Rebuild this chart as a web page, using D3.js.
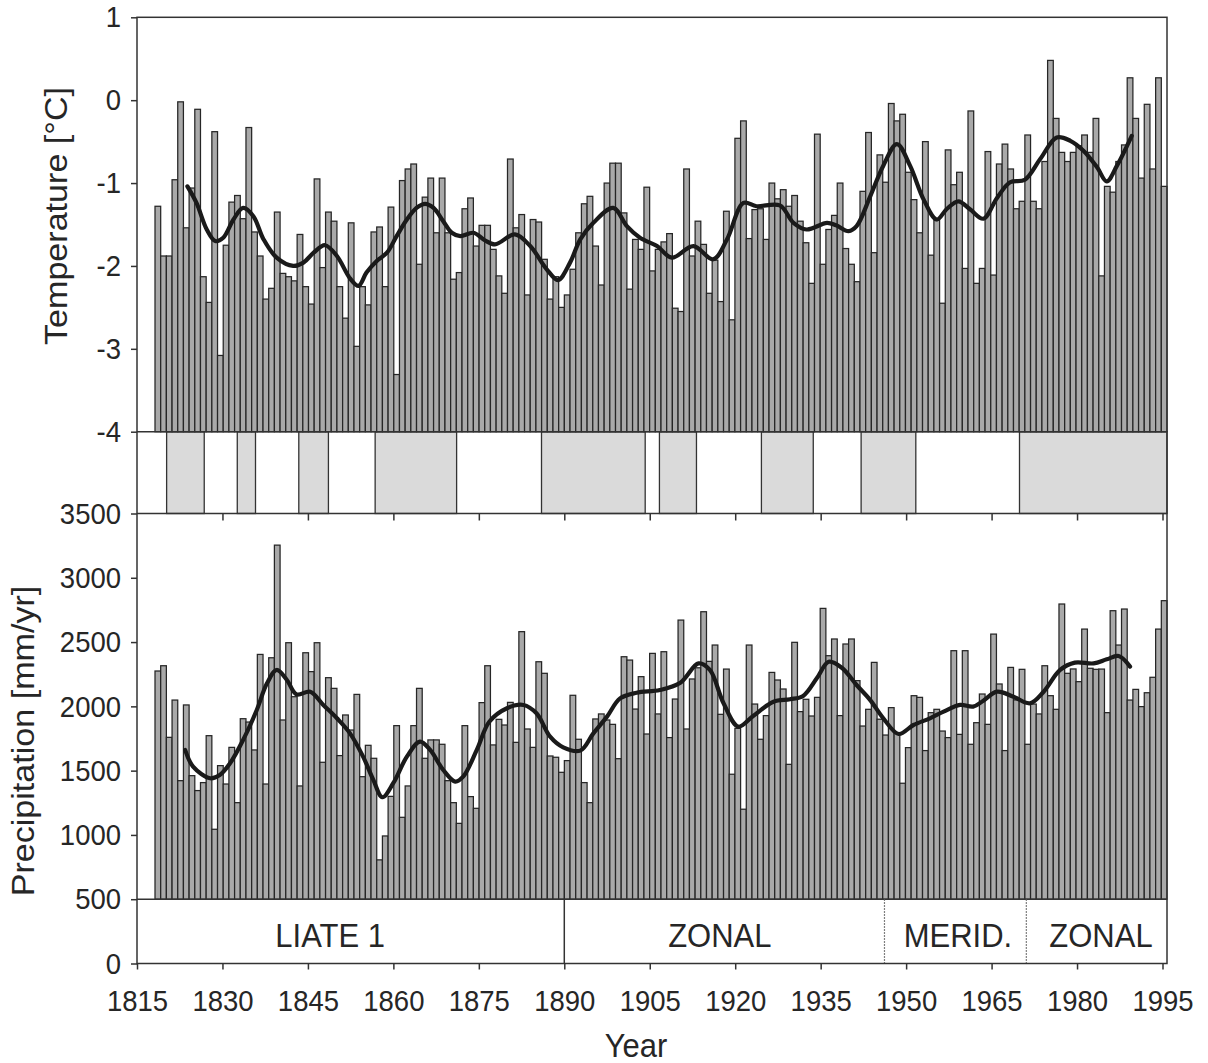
<!DOCTYPE html>
<html><head><meta charset="utf-8">
<script src="https://cdn.jsdelivr.net/npm/d3@7"></script>
<style>
body{margin:0;background:#fff}
text{font-family:"Liberation Sans",Arial,Helvetica,sans-serif;fill:#262626}
</style>
</head><body>
<svg id="chart" width="1208" height="1063"></svg>
<script>
// ---------------- data ----------------
const years = d3.range(1818, 1996);

const temperature = [
-1.28,-1.88,-1.88,-0.96,-0.02,-1.54,-1.06,-0.11,-2.13,-2.44,
-0.38,-3.08,-1.75,-1.23,-1.15,-1.43,-0.33,-1.59,-1.88,-2.40,
-2.27,-1.35,-2.09,-2.13,-2.18,-1.62,-2.25,-2.46,-0.95,-2.02,
-1.35,-1.46,-2.25,-2.63,-1.48,-2.97,-2.25,-2.47,-1.59,-1.53,
-2.25,-1.29,-3.31,-0.97,-0.83,-0.77,-1.98,-1.17,-0.94,-1.60,
-0.94,-1.60,-2.16,-2.08,-1.31,-1.18,-1.76,-1.51,-1.51,-1.80,
-2.12,-2.33,-0.71,-1.54,-1.38,-2.35,-1.44,-1.47,-1.92,-2.40,
-2.13,-2.50,-2.35,-2.04,-1.60,-1.25,-1.16,-1.76,-2.23,-1.00,
-0.76,-0.76,-1.36,-2.28,-1.68,-1.80,-1.05,-2.06,-1.80,-1.71,
-1.61,-2.51,-2.55,-0.83,-1.88,-1.46,-1.74,-2.33,-1.93,-2.43,
-1.34,-2.65,-0.46,-0.25,-1.67,-1.32,-1.31,-1.68,-1.00,-1.19,
-1.08,-1.28,-1.15,-1.46,-1.72,-2.21,-0.41,-1.98,-1.56,-1.39,
-1.00,-1.79,-1.98,-2.19,-1.10,-0.39,-1.84,-0.66,-0.99,-0.04,
-0.25,-0.17,-0.87,-1.20,-1.60,-0.50,-1.87,-1.45,-2.45,-0.60,
-1.02,-0.87,-2.03,-0.13,-2.21,-2.03,-0.62,-2.11,-0.77,-0.53,
-0.83,-1.31,-1.22,-0.42,-1.22,-1.31,-0.74,0.48,-0.22,-0.63,
-0.74,-0.63,-0.55,-0.42,-0.63,-0.22,-2.12,-1.04,-1.11,-0.74,
-0.54,0.27,-0.22,-0.94,-0.05,-0.83,0.27,-1.04
];

const precipitation = [
2275,2316,1759,2049,1422,2011,1461,1345,1407,1772,
1044,1539,1396,1681,1251,1904,1878,1661,2404,1396,
2378,3254,1894,2495,2075,1381,2417,2270,2495,1565,
2223,2140,1617,1933,1816,2093,1453,1697,1596,806,
992,1300,1850,1137,1381,1850,2140,1596,1739,1739,
1705,1422,1251,1090,1850,1298,1207,2029,2316,1700,
1899,1855,2031,1720,2581,1824,1681,2347,2257,1614,
1604,1487,1578,2086,1744,1407,1251,1902,1941,1894,
1860,1593,2386,2360,1979,2231,1785,2412,1941,2425,
1757,2057,2671,1824,2213,2300,2736,2350,2477,1938,
2290,1472,1829,1200,2477,2018,1744,1928,2264,2205,
2135,1549,2498,1959,2055,1925,2070,2762,2394,2524,
1928,2485,2524,2200,1847,1977,2342,1900,1777,1990,
1795,1402,1679,2083,2070,1656,1951,1977,1808,1757,
2433,1782,2433,1705,1873,2096,1860,2562,2174,1656,
2303,2050,2288,1705,2018,1941,2316,2083,1977,2796,
2257,2291,2192,2601,2296,2288,2290,1951,2744,2477,
2757,2049,2132,1998,2106,2226,2601,2822
];

// smoothed curves (year, value)
const tempSmoothYears = [1823.2,1824.8,1826.6,1828.1,1829.5,1831.3,1833.0,1834.8,1836.6,1838.9,
1841.8,1843.6,1845.4,1847.4,1849.5,1851.8,1853.3,1854.7,1856.5,1858.3,1860.0,1861.8,1863.5,
1865.0,1866.5,1868.2,1869.7,1871.2,1873.5,1875.5,1877.3,1880.8,1883.5,1886.4,1888.4,1890.5,
1892.3,1894.6,1898.1,1900.5,1902.8,1905.8,1908.4,1912.2,1915.7,1918.1,1921.0,1923.3,1927.4,
1929.8,1932.1,1935.7,1937.3,1939.5,1940.9,1943.3,1945.6,1948.0,1950.3,1952.7,1955.0,1956.8,
1958.8,1960.9,1963.2,1965.6,1967.9,1970.5,1973.2,1976.1,1978.5,1980.8,1983.2,1984.9,1986.7,1989.3];
const tempSmooth = [-1.04,-1.24,-1.56,-1.70,-1.66,-1.44,-1.30,-1.40,-1.68,-1.90,
-2.00,-1.96,-1.84,-1.75,-1.88,-2.15,-2.24,-2.08,-1.94,-1.84,-1.64,-1.44,-1.30,
-1.25,-1.30,-1.46,-1.60,-1.64,-1.60,-1.69,-1.74,-1.62,-1.76,-2.04,-2.17,-1.96,
-1.68,-1.48,-1.30,-1.52,-1.66,-1.76,-1.90,-1.76,-1.92,-1.68,-1.24,-1.28,-1.27,
-1.48,-1.56,-1.48,-1.51,-1.58,-1.52,-1.16,-0.79,-0.53,-0.79,-1.20,-1.44,-1.31,
-1.22,-1.32,-1.43,-1.18,-0.99,-0.96,-0.71,-0.45,-0.49,-0.61,-0.81,-0.98,-0.79,-0.43];

const precSmoothYears = [1822.8,1824.2,1827.2,1828.9,1830.7,1833.0,1835.4,1837.2,1838.9,1840.7,
1842.4,1844.8,1847.1,1849.5,1851.8,1854.1,1855.9,1857.5,1859.4,1861.8,1864.1,1865.9,1868.2,
1870.3,1871.7,1874.1,1876.3,1879.4,1882.3,1884.6,1887.0,1889.3,1892.3,1894.6,1897.0,1899.3,
1902.2,1906.3,1909.9,1913.1,1915.1,1917.5,1920.1,1922.7,1926.3,1929.2,1931.5,1933.9,1936.0,
1938.3,1940.9,1943.3,1945.6,1948.3,1950.9,1953.8,1956.2,1959.1,1961.4,1963.2,1965.6,1968.5,
1971.4,1973.8,1976.7,1979.3,1982.6,1984.9,1987.0,1989.0];
const precSmooth = [1661,1531,1441,1466,1557,1739,1972,2179,2283,2205,
2093,2114,2011,1907,1790,1609,1428,1293,1402,1609,1726,1661,1505,
1415,1453,1661,1880,1985,2011,1946,1764,1681,1656,1790,1920,2062,
2106,2127,2184,2334,2283,2024,1842,1925,2036,2055,2081,2218,2347,
2300,2166,2049,1907,1785,1855,1907,1959,2011,1998,2044,2114,2075,
2024,2114,2283,2340,2334,2366,2391,2309];

// shaded periods in the band between the panels (start year, end year)
const shadedStart = [1820.2,1832.6,1843.4,1856.8,1886.0,1906.7,1924.6,1942.1,1969.9];
const shadedEnd   = [1826.8,1835.8,1848.6,1871.1,1904.2,1913.2,1933.7,1951.7,1996.0];

// circulation periods
const circNames  = ["LIATE 1","ZONAL","MERID.","ZONAL"];
const circStart  = [1815,1890,1946.2,1971.1];
const circLabelAt = [1848.9,1917.3,1959.1,1984.2];
const circSepStyle = [null,"solid","dotted","dotted"];

const tempTicks = [-4,-3,-2,-1,0,1];
const precTicks = [0,500,1000,1500,2000,2500,3000,3500];
const yearTicks = d3.range(1815,1996,15);

// ---------------- layout ----------------
const L = 137, R = 1167;
const TS = 1.1; // vertical text stretch of the original
const svg = d3.select("#chart");

const xLin = d3.scaleLinear().domain([1815,1995]).range([L,1162.5]);
const xBand = d3.scaleBand().domain(years).range([155,R]).padding(0);
const bw = xBand.bandwidth();
const xC = d3.scaleLinear().domain([years[0], years[years.length-1]]).range([155+bw/2, R-bw/2]);

const yT = d3.scaleLinear().domain([-4,1]).range([431.7,17.3]);
const yP = d3.scaleLinear().domain([0,3500]).range([963.5,513.5]);

const barFill = "#a9a9a9", barStroke = "#262626";

// band shaded rects
svg.append("g").selectAll("rect").data(shadedStart).join("rect")
  .attr("x", d => xLin(d))
  .attr("y", yT(-4))
  .attr("width", (d,i) => Math.min(xLin(shadedEnd[i]), R) - xLin(d))
  .attr("height", yP(3500) - yT(-4))
  .attr("fill", "#dadada").attr("stroke", "#333").attr("stroke-width", 1.3);

// temperature bars
svg.append("g").selectAll("rect").data(temperature).join("rect")
  .attr("x", (d,i) => xBand(years[i]))
  .attr("y", d => yT(d))
  .attr("width", bw)
  .attr("height", d => yT(-4) - yT(d))
  .attr("fill", barFill).attr("stroke", barStroke).attr("stroke-width", 1.25);

// precipitation bars
svg.append("g").selectAll("rect").data(precipitation).join("rect")
  .attr("x", (d,i) => xBand(years[i]))
  .attr("y", d => yP(d))
  .attr("width", bw)
  .attr("height", d => yP(500) - yP(d))
  .attr("fill", barFill).attr("stroke", barStroke).attr("stroke-width", 1.25);

// smoothed lines
const tLine = d3.line().x(d => xC(d[0])).y(d => yT(d[1])).curve(d3.curveCatmullRom.alpha(0.5));
svg.append("path").datum(tempSmoothYears.map((y,i) => [y, tempSmooth[i]]))
  .attr("d", tLine).attr("fill","none").attr("stroke","#1a1a1a").attr("stroke-width",4.2)
  .attr("stroke-linejoin","round").attr("stroke-linecap","round");
const pLine = d3.line().x(d => xC(d[0])).y(d => yP(d[1])).curve(d3.curveCatmullRom.alpha(0.5));
svg.append("path").datum(precSmoothYears.map((y,i) => [y, precSmooth[i]]))
  .attr("d", pLine).attr("fill","none").attr("stroke","#1a1a1a").attr("stroke-width",4.2)
  .attr("stroke-linejoin","round").attr("stroke-linecap","round");

// horizontal dividers
[yT(-4), yP(3500), yP(500)].forEach(y => {
  svg.append("line").attr("x1",L).attr("x2",R).attr("y1",y).attr("y2",y)
    .attr("stroke","#333").attr("stroke-width",1.5);
});

// circulation band separators and labels
circStart.forEach((s,i) => {
  if (circSepStyle[i]) {
    svg.append("line").attr("x1",xLin(s)).attr("x2",xLin(s))
      .attr("y1",yP(500)).attr("y2",yP(0))
      .attr("stroke", circSepStyle[i]==="solid" ? "#333" : "#555")
      .attr("stroke-width", circSepStyle[i]==="solid" ? 1.5 : 1.2)
      .attr("stroke-dasharray", circSepStyle[i]==="solid" ? null : "1.5,1.5");
  }
  svg.append("text")
    .attr("transform", `translate(${xLin(circLabelAt[i])},947) scale(1,${TS})`)
    .attr("text-anchor","middle").attr("font-size","31px")
    .text(circNames[i]);
});

// frame
svg.append("rect").attr("x",L).attr("y",yT(1)).attr("width",R-L).attr("height",yP(0)-yT(1))
  .attr("fill","none").attr("stroke","#333").attr("stroke-width",1.5);

// axes
function styleAxis(g){
  g.select(".domain").remove();
  g.selectAll(".tick line").attr("stroke","#333").attr("stroke-width",1.5);
  g.selectAll(".tick text").attr("font-size","27.5px").attr("fill","#262626")
    .attr("font-family",'"Liberation Sans",Arial,sans-serif')
    .attr("transform",`scale(1,${TS})`);
}
svg.append("g").attr("transform",`translate(${L},0)`)
  .call(d3.axisLeft(yT).tickValues(tempTicks).tickSize(6).tickPadding(10).tickFormat(d => String(d)))
  .call(styleAxis);
svg.append("g").attr("transform",`translate(${L},0)`)
  .call(d3.axisLeft(yP).tickValues(precTicks).tickSize(6).tickPadding(10).tickFormat(d => String(d)))
  .call(styleAxis);
svg.append("g").attr("transform",`translate(0,${yP(0)})`)
  .call(d3.axisBottom(xLin).tickValues(yearTicks).tickSize(6).tickPadding(18).tickFormat(d => String(d)))
  .call(styleAxis);
// inner ticks under the middle band
svg.append("g").attr("transform",`translate(0,${yP(3500)})`)
  .call(d3.axisBottom(xLin).tickValues(yearTicks.filter(d => d > 1815)).tickSize(7).tickFormat(""))
  .call(styleAxis);

// axis titles
svg.append("text").attr("transform",`translate(67,216) scale(1,${TS}) rotate(-90)`)
  .attr("text-anchor","middle").attr("font-size","31px").text("Temperature [°C]");
svg.append("text").attr("transform",`translate(34,741) scale(1,${TS}) rotate(-90)`)
  .attr("text-anchor","middle").attr("font-size","31px").text("Precipitation [mm/yr]");
svg.append("text").attr("transform",`translate(636,1057) scale(1,${TS})`)
  .attr("text-anchor","middle").attr("font-size","31px").text("Year");
</script>
</body></html>
